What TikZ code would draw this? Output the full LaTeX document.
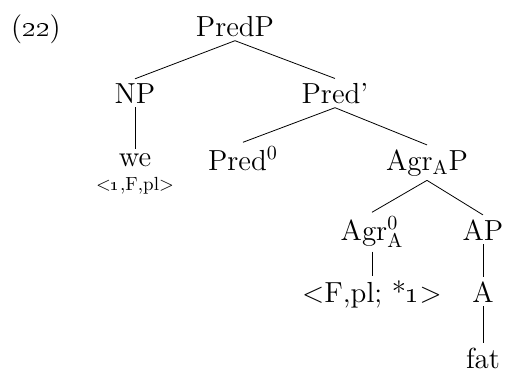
\documentclass[tikz,border=0pt]{standalone}
\usepackage{tikz}
\usetikzlibrary{positioning}

\tikzset{
  cat/.style={anchor=base, inner sep=2pt, font=\fontsize{14.5}{17}\selectfont},
  feat/.style={anchor=base, inner sep=1pt, font=\fontsize{9.5}{11}\selectfont},
  branch/.style={thin, black}
}

\begin{document}
\begin{tikzpicture}[x=0.5pt, y=-0.5pt]
    \useasboundingbox (0,0) rectangle (505,372);
    \node[cat] (exno) at (36,36) {(\oldstylenums{22})};
    \node[cat] (predp) at (235,36) {PredP};
    \node[cat] (np) at (135,103) {NP};
    \node[cat] (predbar) at (335,103) {Pred'};
    \node[cat] (we) at (135,166) {we};
    \node[feat] (wefeat) at (135,190) {<\oldstylenums{1},F,pl>};
    \node[cat] (predzero) at (243,170) {Pred$^0$};
    \node[cat] (agrap) at (427,170) {Agr$_\mathrm{A}$P};
    \node[cat] (agrzero) at (372,240) {Agr$^{0}_{\mathrm{A}}$};
    \node[cat] (ap) at (483,240) {AP};
    \node[cat] (agrfeat) at (372,302) {<F,pl; *\oldstylenums{1}>};
    \node[cat] (a) at (483,302) {A};
    \node[cat] (fat) at (483,368) {fat};
    \draw[branch] (predp.south) -- (np.north);
    \draw[branch] (predp.south) -- (predbar.north);
    \draw[branch] (np.south) -- (we.north);
    \draw[branch] (predbar.south) -- (predzero.north);
    \draw[branch] (predbar.south) -- (agrap.north);
    \draw[branch] (agrap.south) -- (agrzero.north);
    \draw[branch] (agrap.south) -- (ap.north);
    \draw[branch] (agrzero.south) -- (agrfeat.north);
    \draw[branch] (ap.south) -- (a.north);
    \draw[branch] (a.south) -- (fat.north);
  \end{tikzpicture}
\end{document}
